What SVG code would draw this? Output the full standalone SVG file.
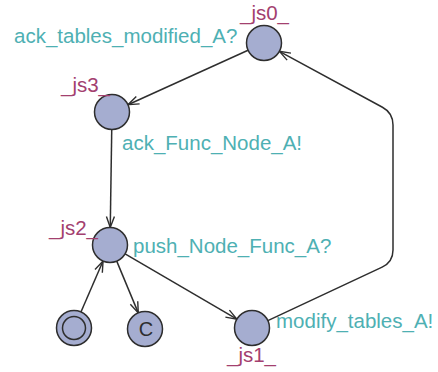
<svg xmlns="http://www.w3.org/2000/svg" width="438" height="372" viewBox="0 0 438 372">
<style>
.loc{fill:#a5add0;stroke:#2e2e2e;stroke-width:1.5}
.edge{fill:none;stroke:#2e2e2e;stroke-width:1.5}
.lbl{font-family:"Liberation Sans",Arial,sans-serif;font-size:20.5px;fill:#4eb0b3}
.nm{font-family:"Liberation Sans",Arial,sans-serif;font-size:20.5px;fill:#a3406f}
</style>
<defs>
<marker id="arr" markerUnits="userSpaceOnUse" markerWidth="14" markerHeight="12" refX="12" refY="5" orient="auto">
<path d="M1,1 L12,5 L1,9" fill="none" stroke="#2e2e2e" stroke-width="1.4"/>
</marker>
</defs>
<rect width="438" height="372" fill="#ffffff"/>
<g id="connectors">
<path class="edge" d="M248.06,50.23 L127.94,104.77" marker-end="url(#arr)"/>
<path class="edge" d="M111.74,129.5 L110.26,227.5" marker-end="url(#arr)"/>
<path class="edge" d="M125.1,253.83 L236.9,319.17" marker-end="url(#arr)"/>
<path class="edge" d="M267.85,320.58 L382.13,267.09 Q393,262 393,250 L393,125 Q393,113 382.45,107.28 L279.38,51.34" marker-end="url(#arr)"/>
<path class="edge" d="M80.96,311.95 L103.04,261.05" marker-end="url(#arr)"/>
<path class="edge" d="M116.73,261.15 L138.27,312.85" marker-end="url(#arr)"/>
</g>
<g id="js0">
<circle class="loc" cx="264" cy="43" r="17.5"/>
<text class="nm" x="240" y="20">_js0_</text>
</g>
<g id="js3">
<circle class="loc" cx="112" cy="112" r="17.5"/>
<text class="nm" x="61" y="92">_js3_</text>
</g>
<g id="js2">
<circle class="loc" cx="110" cy="245" r="17.5"/>
<text class="nm" x="49" y="235">_js2_</text>
</g>
<g id="js1">
<circle class="loc" cx="252" cy="328" r="17.5"/>
<text class="nm" x="227" y="362">_js1_</text>
</g>
<g id="init">
<circle class="loc" cx="74" cy="328" r="17.5"/>
<circle class="loc" cx="74" cy="328" r="11.5"/>
</g>
<g id="committed">
<circle class="loc" cx="145" cy="329" r="17.5"/>
<text x="146" y="336" text-anchor="middle" font-family="Liberation Sans,Arial,sans-serif" font-size="20" fill="#2e2e2e">C</text>
</g>
<g id="labels">
<text class="lbl" x="14" y="43">ack_tables_modified_A?</text>
<text class="lbl" x="122" y="150">ack_Func_Node_A!</text>
<text class="lbl" x="133" y="253">push_Node_Func_A?</text>
<text class="lbl" x="276" y="328">modify_tables_A!</text>
</g>
</svg>
